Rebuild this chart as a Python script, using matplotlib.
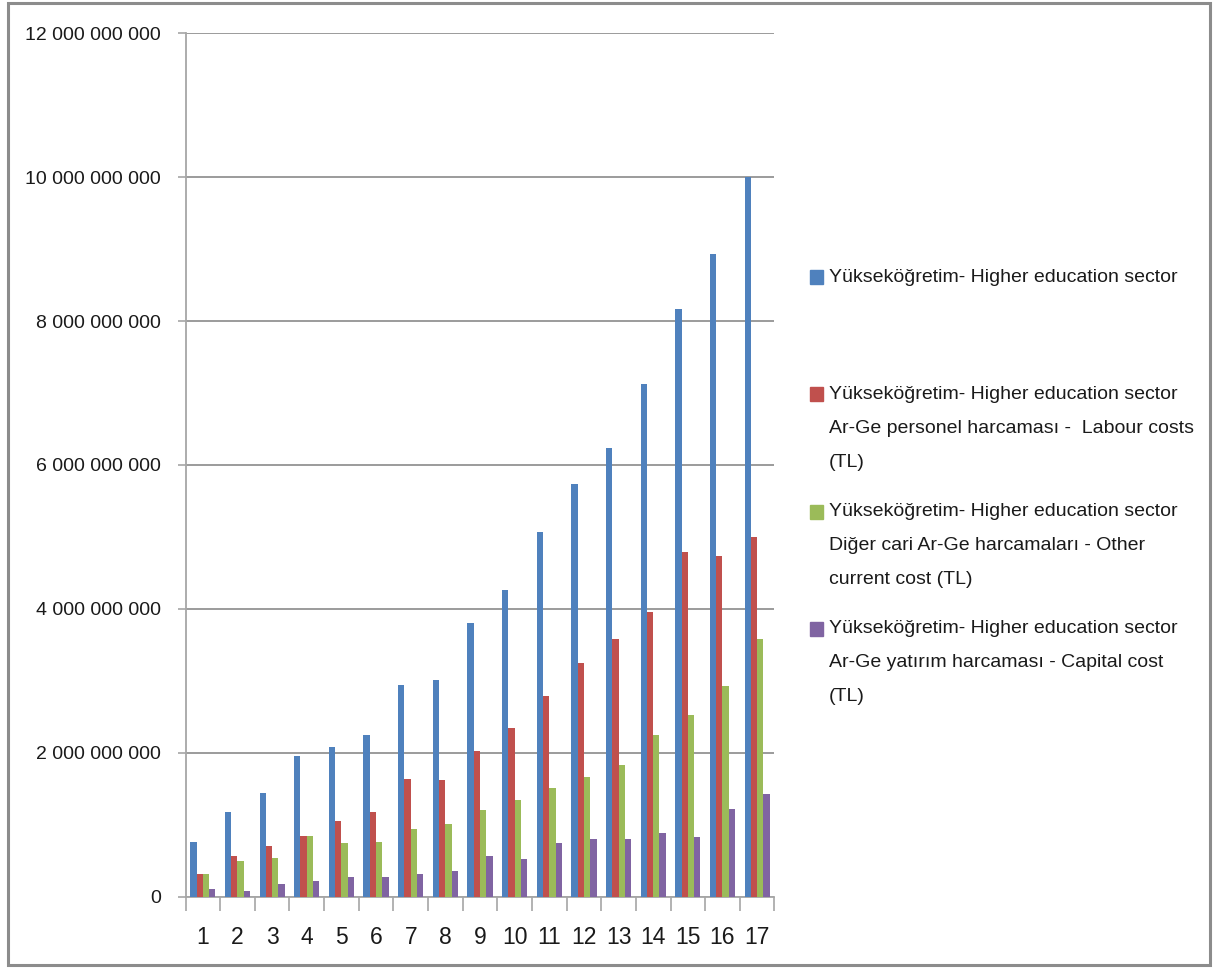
import matplotlib
matplotlib.use("Agg")
import matplotlib.pyplot as plt
import matplotlib.patches as mpatches
from matplotlib.ticker import FuncFormatter, MultipleLocator
import numpy as np

plt.rcParams["font.family"] = ["Liberation Sans", "DejaVu Sans"]

# ── DATA (TL) ────────────────────────────────────────────────────────────────
years = [str(i) for i in range(1, 18)]
higher_ed_total = [0.76e9, 1.18e9, 1.44e9, 1.96e9, 2.08e9, 2.25e9, 2.94e9, 3.01e9, 3.81e9,
                   4.26e9, 5.07e9, 5.74e9, 6.24e9, 7.13e9, 8.17e9, 8.93e9, 10.0e9]
labour_costs = [0.31e9, 0.57e9, 0.70e9, 0.85e9, 1.05e9, 1.18e9, 1.64e9, 1.62e9, 2.02e9,
                2.35e9, 2.79e9, 3.25e9, 3.58e9, 3.96e9, 4.79e9, 4.74e9, 5.00e9]
other_current = [0.31e9, 0.50e9, 0.54e9, 0.85e9, 0.74e9, 0.76e9, 0.94e9, 1.01e9, 1.20e9,
                 1.34e9, 1.51e9, 1.66e9, 1.83e9, 2.25e9, 2.53e9, 2.93e9, 3.58e9]
capital_cost = [0.11e9, 0.08e9, 0.18e9, 0.22e9, 0.28e9, 0.28e9, 0.32e9, 0.36e9, 0.57e9,
                0.53e9, 0.74e9, 0.80e9, 0.80e9, 0.89e9, 0.83e9, 1.22e9, 1.42e9]

series_labels = [
    "Yükseköğretim- Higher education sector",
    "Yükseköğretim- Higher education sector\nAr-Ge personel harcaması -  Labour costs\n(TL)",
    "Yükseköğretim- Higher education sector\nDiğer cari Ar-Ge harcamaları - Other\ncurrent cost (TL)",
    "Yükseköğretim- Higher education sector\nAr-Ge yatırım harcaması - Capital cost\n(TL)",
]

# ── PALETTE ──────────────────────────────────────────────────────────────────
BLUE   = "#4F81BD"
RED    = "#C0504D"
GREEN  = "#9BBB59"
PURPLE = "#8064A2"
GRID   = "#8A8A8A"
AXIS   = "#A6A6A6"

fig = plt.figure(figsize=(12.15, 9.68), dpi=100)
fig.patch.set_facecolor("white")
ax = fig.add_axes([0.1527, 0.0737, 0.4847, 0.8919])

x = np.arange(len(years))
w = 1 / 5.5
all_series = [higher_ed_total, labour_costs, other_current, capital_cost]
colors = [BLUE, RED, GREEN, PURPLE]
for i, (vals, col) in enumerate(zip(all_series, colors)):
    ax.bar(x + (i - 1.5) * w, vals, width=w, color=col, edgecolor="none", zorder=3)

ax.set_xlim(-0.5, len(years) - 0.5)
ax.set_ylim(0, 12e9)
ax.yaxis.set_major_locator(MultipleLocator(2e9))
ax.yaxis.set_major_formatter(FuncFormatter(lambda v, _: f"{v:,.0f}".replace(",", " ")))
ax.grid(axis="y", color=GRID, linewidth=1.2, zorder=0)
ax.set_axisbelow(True)

# category labels centred, tick marks on the group boundaries
ax.set_xticks(x)
ax.set_xticklabels(years)
ax.set_xticks(np.arange(-0.5, len(years), 1), minor=True)
ax.tick_params(axis="x", which="major", length=0, pad=21, labelsize=16.5, labelcolor="#1a1a1a")
ax.tick_params(axis="x", which="minor", length=10, width=1.2, color=AXIS)
ax.tick_params(axis="y", length=6, width=1.2, color=AXIS, pad=11.5, labelsize=14,
               labelcolor="#1a1a1a")

for s in ["top", "right"]:
    ax.spines[s].set_visible(False)
ax.spines["left"].set_color(AXIS)
ax.spines["left"].set_linewidth(1.3)
ax.spines["bottom"].set_color(AXIS)
ax.spines["bottom"].set_linewidth(1.3)

# ── LEGEND (square beside the first line of each entry) ──────────────────────
W, H = 1215, 968
for k, (lab, col) in enumerate(zip(series_labels, colors)):
    yc = 277 + k * 117.3
    fig.add_artist(mpatches.Rectangle((810 / W, 1 - (yc + 7) / H), 13 / W, 14 / H,
                                      transform=fig.transFigure, color=col))
    for j, line in enumerate(lab.split("\n")):
        fig.text(829 / W, 1 - (yc + j * 34) / H, line, fontsize=14,
                 va="center", ha="left", color="#1a1a1a")

# outer chart border
fig.add_artist(mpatches.Rectangle((8 / W, 3 / H), 1202 / W, 962 / H,
                                  transform=fig.transFigure, fill=False,
                                  edgecolor="#8C8C8C", linewidth=2.2))

plt.savefig("out.png", dpi=100, facecolor="white")
plt.close()
